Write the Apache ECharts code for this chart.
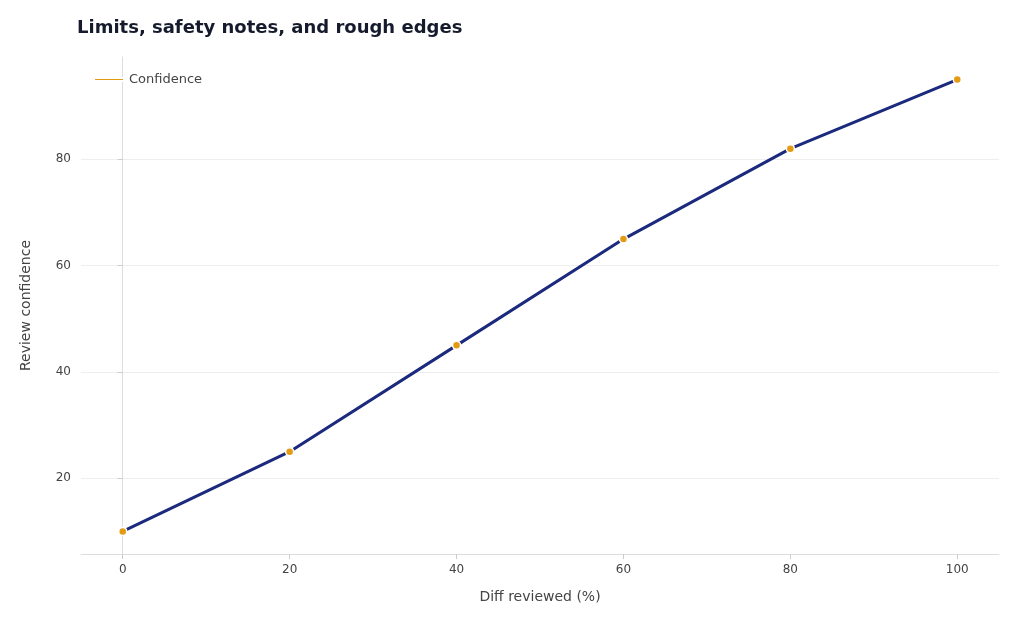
<!DOCTYPE html>
<html><head><meta charset="utf-8">
<script src="https://cdn.jsdelivr.net/npm/echarts@6/dist/echarts.min.js"></script>
<style>html,body{margin:0;background:#fff}#c{width:1024px;height:631px}</style>
</head><body><div id="c"></div>
<script>
var xValues = [0, 20, 40, 60, 80, 100];
var confidence = [10, 25, 45, 65, 82, 95];
var xTicks = [0, 20, 40, 60, 80, 100];
var yTicks = [20, 40, 60, 80];

var chart = echarts.init(document.getElementById('c'));
var font = 'DejaVu Sans';
chart.setOption({
    animation: false,
    title: {text: 'Limits, safety notes, and rough edges', left: 72, top: 14,
        textStyle: {fontFamily: font, fontSize: 18, fontWeight: 'bold', color: '#151b2c'}},
    legend: {left: 88, top: 68, itemWidth: 30, itemHeight: 3, icon: 'rect',
        textStyle: {fontFamily: font, fontSize: 13, color: '#444'},
        data: ['Confidence']},
    grid: {left: 81, right: 25, top: 57, bottom: 77},
    xAxis: {type: 'value', min: -5, max: 105,
        name: 'Diff reviewed (%)', nameLocation: 'middle', nameGap: 36,
        nameTextStyle: {fontFamily: font, fontSize: 14, color: '#444'},
        axisLine: {lineStyle: {color: '#ddd'}},
        axisTick: {show: true, customValues: xTicks, lineStyle: {color: '#ccc'}},
        axisLabel: {customValues: xTicks, fontFamily: font, fontSize: 12, color: '#444', margin: 10},
        splitLine: {show: false}},
    yAxis: {type: 'value', min: 5.75, max: 99.25,
        name: 'Review confidence', nameLocation: 'middle', nameGap: 48,
        nameTextStyle: {fontFamily: font, fontSize: 14, color: '#444'},
        axisLine: {show: true, lineStyle: {color: '#ddd'}},
        axisTick: {show: true, customValues: yTicks, lineStyle: {color: '#ccc'}},
        axisLabel: {customValues: yTicks, fontFamily: font, fontSize: 12, color: '#444', margin: 10},
        splitLine: {show: true, lineStyle: {color: '#eee'}}},
    series: [{
        name: 'Confidence', type: 'line',
        data: xValues.map(function (x, i) { return [x, confidence[i]]; }),
        lineStyle: {color: '#1c2a7e', width: 3},
        itemStyle: {color: '#e39b14', borderColor: '#fff', borderWidth: 1.5},
        symbol: 'circle', symbolSize: 8, showSymbol: true,
        color: '#1c2a7e'
    }]
});
</script></body></html>
